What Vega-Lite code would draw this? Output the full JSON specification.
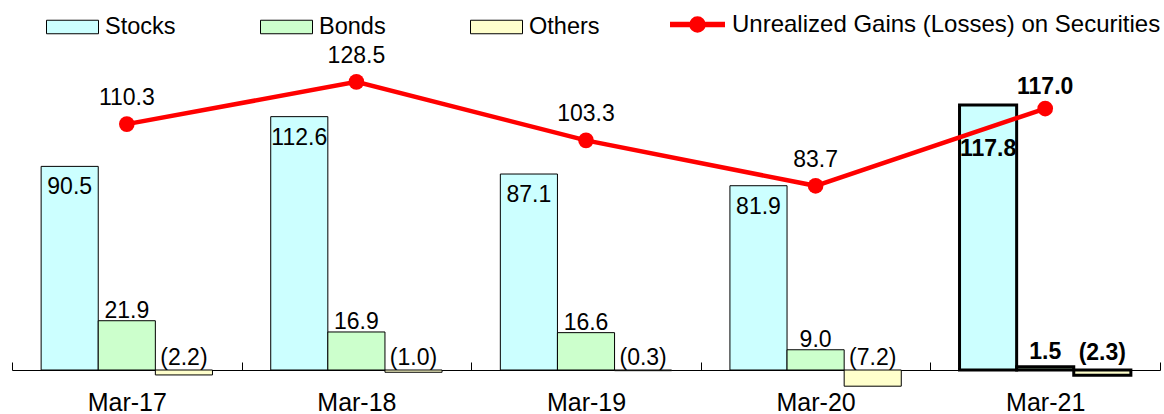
{
  "$schema": "https://vega.github.io/schema/vega-lite/v6.json",
  "width": 1148,
  "height": 351,
  "autosize": "none",
  "padding": {"left": 12, "top": 41.5, "right": 4, "bottom": 21.5},
  "background": "white",
  "config": {"font": "Liberation Sans", "view": {"stroke": null}},
  "datasets": {
    "holdings": [
      {"year": "Mar-17", "type": "Stocks", "value": 90.5},
      {"year": "Mar-17", "type": "Bonds", "value": 21.9},
      {"year": "Mar-17", "type": "Others", "value": -2.2},
      {"year": "Mar-18", "type": "Stocks", "value": 112.6},
      {"year": "Mar-18", "type": "Bonds", "value": 16.9},
      {"year": "Mar-18", "type": "Others", "value": -1.0},
      {"year": "Mar-19", "type": "Stocks", "value": 87.1},
      {"year": "Mar-19", "type": "Bonds", "value": 16.6},
      {"year": "Mar-19", "type": "Others", "value": -0.3},
      {"year": "Mar-20", "type": "Stocks", "value": 81.9},
      {"year": "Mar-20", "type": "Bonds", "value": 9.0},
      {"year": "Mar-20", "type": "Others", "value": -7.2},
      {"year": "Mar-21", "type": "Stocks", "value": 117.8},
      {"year": "Mar-21", "type": "Bonds", "value": 1.5},
      {"year": "Mar-21", "type": "Others", "value": -2.3}
    ],
    "gains": [
      {"year": "Mar-17", "gain": 110.3},
      {"year": "Mar-18", "gain": 128.5},
      {"year": "Mar-19", "gain": 103.3},
      {"year": "Mar-20", "gain": 83.7},
      {"year": "Mar-21", "gain": 117.0}
    ]
  },
  "layer": [
    {
      "data": {"name": "holdings"},
      "encoding": {
        "x": {
          "field": "year", "type": "nominal",
          "scale": {"domain": ["Mar-17", "Mar-18", "Mar-19", "Mar-20", "Mar-21"], "paddingInner": 0, "paddingOuter": 0},
          "axis": {
            "title": null, "labelAngle": 0, "offset": -22.5, "domain": true, "domainColor": "#000000", "domainWidth": 1,
            "ticks": true, "tickBand": "extent", "tickSize": -8, "tickColor": "#000000", "tickWidth": 1,
            "labelFontSize": 25, "labelColor": "#000000", "labelFont": "Liberation Sans", "labelPadding": 28, "grid": false
          }
        },
        "xOffset": {"field": "type", "type": "nominal", "scale": {"domain": ["Stocks", "Bonds", "Others"], "paddingInner": 0, "paddingOuter": 0.51}},
        "y": {"field": "value", "type": "quantitative", "scale": {"domain": [-10, 146], "nice": false, "zero": false}, "axis": null}
      },
      "layer": [
        {
          "mark": {"type": "bar", "stroke": "#000000"},
          "encoding": {
            "fill": {
              "field": "type", "type": "nominal",
              "scale": {"domain": ["Stocks", "Bonds", "Others"], "range": ["#ccffff", "#ccffcc", "#ffffcc"]},
              "legend": {
                "title": null, "orient": "none", "legendX": 34, "legendY": -41, "direction": "horizontal",
                "symbolType": "M-1,-0.26H1V0.26H-1Z", "symbolSize": 2704, "symbolStrokeColor": "#000000", "symbolStrokeWidth": 1,
                "labelFontSize": 23.5, "labelFont": "Liberation Sans", "labelColor": "#000000", "labelOffset": 6, "columnPadding": 82
              }
            },
            "strokeWidth": {"condition": {"test": "datum.year === 'Mar-21'", "value": 3}, "value": 1}
          }
        },
        {
          "transform": [{"filter": "datum.type === 'Stocks' && datum.year !== 'Mar-21'"}],
          "mark": {"type": "text", "fontSize": 23, "baseline": "middle", "dy": 21, "color": "#000000"},
          "encoding": {"text": {"field": "value", "type": "quantitative", "format": "(.1f"}}
        },
        {
          "transform": [{"filter": "datum.type === 'Bonds' && datum.year !== 'Mar-21'"}],
          "mark": {"type": "text", "fontSize": 23, "baseline": "middle", "dy": -10, "color": "#000000"},
          "encoding": {"text": {"field": "value", "type": "quantitative", "format": "(.1f"}}
        },
        {
          "transform": [{"filter": "datum.type === 'Others' && datum.year !== 'Mar-21'"}],
          "mark": {"type": "text", "fontSize": 23, "baseline": "middle", "dy": -12, "color": "#000000"},
          "encoding": {
            "y": {"datum": 0, "type": "quantitative"},
            "text": {"field": "value", "type": "quantitative", "format": "(.1f"}
          }
        },
        {
          "transform": [{"filter": "datum.type === 'Stocks' && datum.year === 'Mar-21'"}],
          "mark": {"type": "text", "fontSize": 23, "fontWeight": "bold", "baseline": "middle", "dy": 44, "color": "#000000"},
          "encoding": {"text": {"field": "value", "type": "quantitative", "format": "(.1f"}}
        },
        {
          "transform": [{"filter": "datum.type === 'Bonds' && datum.year === 'Mar-21'"}],
          "mark": {"type": "text", "fontSize": 23, "fontWeight": "bold", "baseline": "middle", "dy": -15, "color": "#000000"},
          "encoding": {"text": {"field": "value", "type": "quantitative", "format": "(.1f"}}
        },
        {
          "transform": [{"filter": "datum.type === 'Others' && datum.year === 'Mar-21'"}],
          "mark": {"type": "text", "fontSize": 23, "fontWeight": "bold", "baseline": "middle", "dy": -17, "color": "#000000"},
          "encoding": {
            "y": {"datum": 0, "type": "quantitative"},
            "text": {"field": "value", "type": "quantitative", "format": "(.1f"}
          }
        }
      ]
    },
    {
      "data": {"name": "gains"},
      "encoding": {
        "x": {"field": "year", "type": "nominal"},
        "y": {"field": "gain", "type": "quantitative", "scale": {"domain": [-5.388, 145.905], "nice": false, "zero": false}, "axis": null}
      },
      "layer": [
        {
          "mark": {"type": "line", "strokeWidth": 4.5},
          "encoding": {
            "stroke": {
              "datum": "Unrealized Gains (Losses) on Securities",
              "scale": {"range": ["#ff0000"]},
              "legend": {
                "title": null, "orient": "none", "legendX": 655, "legendY": -47.5,
                "symbolType": "M-1,0H1M0.2,0A0.2,0.2,0,1,1,-0.2,0A0.2,0.2,0,1,1,0.2,0Z", "symbolSize": 3025,
                "symbolStrokeWidth": 5.5, "symbolFillColor": "#ff0000",
                "labelFontSize": 24, "labelLimit": 600, "labelFont": "Liberation Sans", "labelColor": "#000000", "labelOffset": 4,
                "encode": {"symbols": {"update": {"fill": {"value": "#ff0000"}, "stroke": {"value": "#ff0000"}, "strokeWidth": {"value": 5.5}}}}
              }
            }
          }
        },
        {
          "mark": {"type": "point", "filled": true, "size": 245, "color": "#ff0000", "opacity": 1}
        },
        {
          "transform": [{"filter": "datum.year !== 'Mar-21'"}],
          "mark": {"type": "text", "fontSize": 23, "baseline": "middle", "dy": -26, "color": "#000000"},
          "encoding": {"text": {"field": "gain", "type": "quantitative", "format": "(.1f"}}
        },
        {
          "transform": [{"filter": "datum.year === 'Mar-21'"}],
          "mark": {"type": "text", "fontSize": 23, "fontWeight": "bold", "baseline": "middle", "dy": -22, "color": "#000000"},
          "encoding": {"text": {"field": "gain", "type": "quantitative", "format": "(.1f"}}
        }
      ]
    }
  ],
  "resolve": {"scale": {"y": "independent"}}
}
